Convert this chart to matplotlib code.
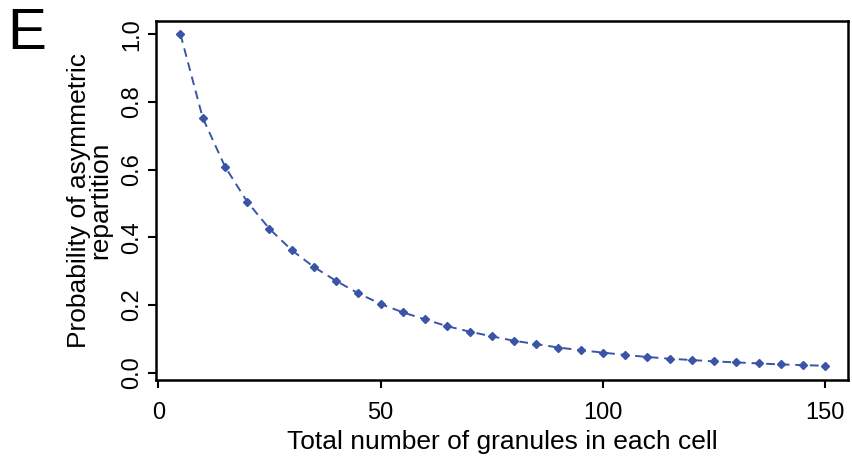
import matplotlib
matplotlib.use("Agg")
import matplotlib.pyplot as plt

plt.rcParams['font.family'] = ['Liberation Sans', 'DejaVu Sans']

# granules per cell and the probability
granules = [5, 10, 15, 20, 25, 30, 35, 40, 45, 50,
            55, 60, 65, 70, 75, 80, 85, 90, 95, 100,
            105, 110, 115, 120, 125, 130, 135, 140, 145, 150]
prob_asym = [1.0, 0.753, 0.609, 0.505, 0.425, 0.362, 0.312, 0.271, 0.234, 0.203,
             0.178, 0.157, 0.137, 0.121, 0.107, 0.094, 0.084, 0.074, 0.066, 0.059,
             0.052, 0.046, 0.041, 0.037, 0.033, 0.030, 0.027, 0.024, 0.022, 0.020]

x_ticks = [0, 50, 100, 150]
y_ticks = [0.0, 0.2, 0.4, 0.6, 0.8, 1.0]

blue = '#3a55a8'

fig = plt.figure(figsize=(8.53, 4.61), dpi=100)
ax = fig.add_axes([0.1829, 0.1757, 0.8112, 0.7794])

ax.plot(granules, prob_asym, color=blue, linestyle=(0, (4.5, 3)), linewidth=1.4,
        marker='D', markersize=3.6, markerfacecolor=blue, markeredgecolor=blue)

ax.set_xlim(-0.5, 155.1)
ax.set_ylim(-0.022, 1.04)
ax.set_xticks(x_ticks)
ax.set_xticklabels([str(v) for v in x_ticks])
ax.set_yticks(y_ticks)
ax.set_yticklabels([f'{v:.1f}' for v in y_ticks], rotation=90, va='center')

ax.tick_params(direction='out', length=6, width=1.5, labelsize=17)
ax.tick_params(axis='x', pad=10)
ax.tick_params(axis='y', pad=3)
for s in ax.spines.values():
    s.set_linewidth(1.8)

ax.set_xlabel('Total number of granules in each cell', fontsize=19, labelpad=4)
ax.set_ylabel('Probability of asymmetric\nrepartition', fontsize=19, labelpad=7,
              linespacing=0.85)

fig.text(0.008, 0.985, 'E', fontsize=42, va='top', ha='left')

fig.savefig('out.png', dpi=100)
